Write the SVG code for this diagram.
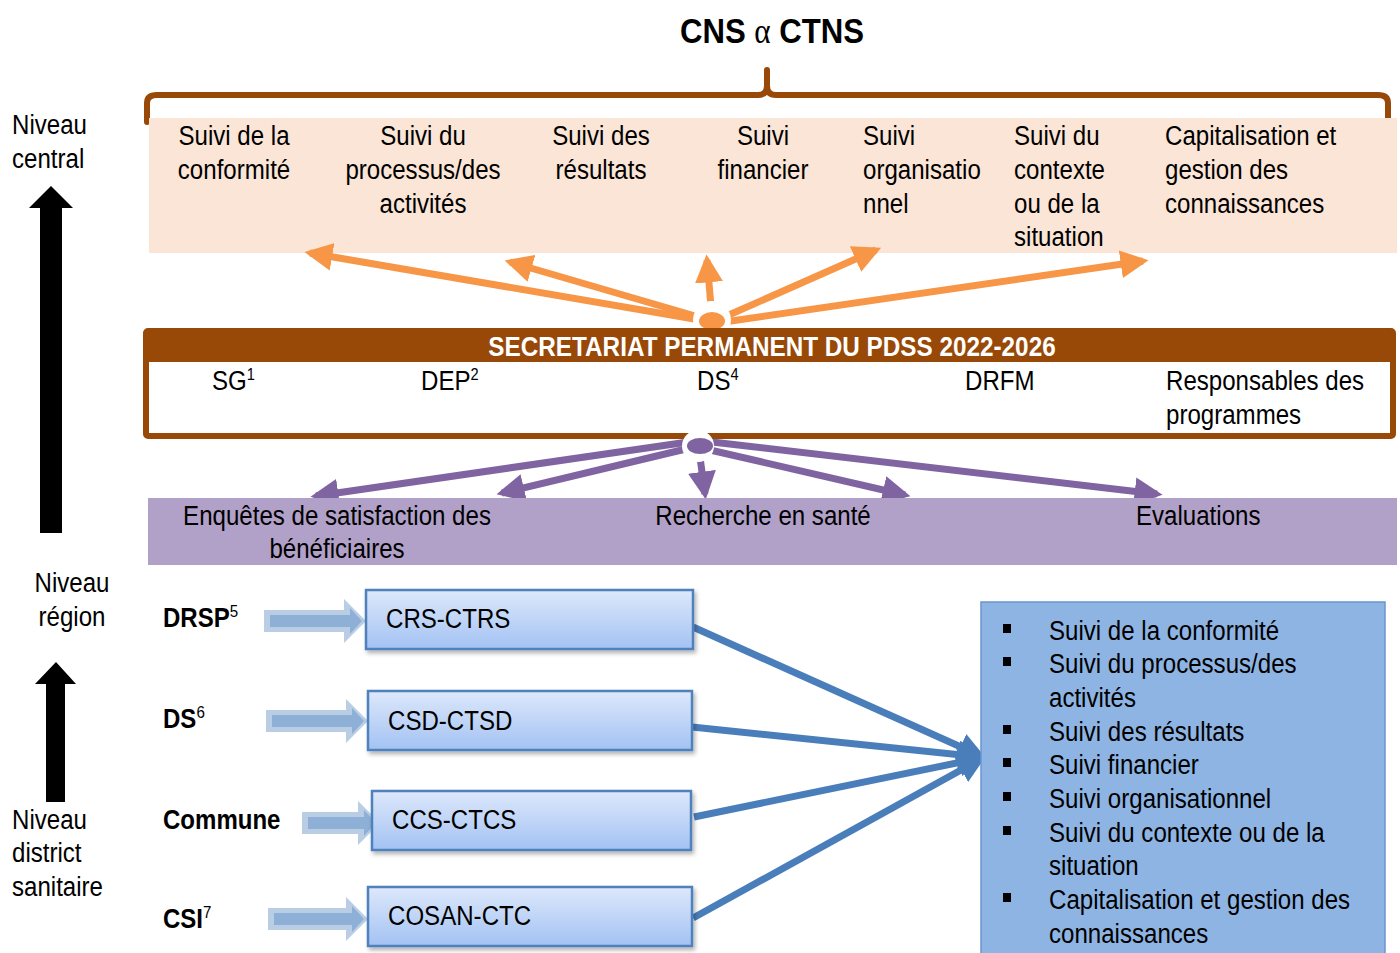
<svg xmlns="http://www.w3.org/2000/svg" width="1400" height="953" viewBox="0 0 1400 953">
<defs>
<style>
text{font-family:"Liberation Sans",Arial,sans-serif;fill:#000;}
.t{font-size:28px;}
.c{text-anchor:middle;}
.b{font-weight:bold;}
.lbl{font-size:27px;font-weight:bold;}
.sup{font-size:17px;}
.orange{stroke:#F79646;stroke-width:7;fill:none;}
.purple{stroke:#8064A2;stroke-width:7;fill:none;}
.blue{stroke:#4A7EBB;stroke-width:7;fill:none;}
.bbox{fill:url(#bg);stroke:#4F81BD;stroke-width:2.5;}
.blk{fill:#B9CDE5;}
.blki{fill:#8EAFD6;}
</style>
<linearGradient id="bg" x1="0" y1="0" x2="0" y2="1">
<stop offset="0" stop-color="#DDE8FB"/>
<stop offset="1" stop-color="#A3C2F3"/>
</linearGradient>
<marker id="mo" viewBox="0 0 10 10" refX="8" refY="5" markerWidth="4" markerHeight="4" orient="auto" markerUnits="strokeWidth"><path d="M0,0 L10,5 L0,10 z" fill="#F79646"/></marker>
<marker id="mp" viewBox="0 0 10 10" refX="8" refY="5" markerWidth="4" markerHeight="4" orient="auto" markerUnits="strokeWidth"><path d="M0,0 L10,5 L0,10 z" fill="#8064A2"/></marker>
<marker id="mb" viewBox="0 0 10 10" refX="8" refY="5" markerWidth="4" markerHeight="4.5" orient="auto" markerUnits="strokeWidth"><path d="M0,0 L10,5 L0,10 z" fill="#4A7EBB"/></marker>
<filter id="sh" x="-5%" y="-10%" width="110%" height="130%"><feDropShadow dx="2" dy="3" stdDeviation="2" flood-color="#000" flood-opacity="0.3"/></filter>
</defs>
<rect width="1400" height="953" fill="#fff"/>

<g id="title">
<text transform="translate(772,43) scale(0.89,1)" class="c b" style="font-size:35px">CNS <tspan style="font-family:'Liberation Serif',serif;font-weight:normal">α</tspan> CTNS</text>
</g>

<g id="brace">
<path d="M147,122 L147,103 Q147,95 157,95 L758,95 Q767,95 767,86 L767,70 M767,86 Q767,95 776,95 L1378,95 Q1388,95 1388,103 L1388,122" fill="none" stroke="#984807" stroke-width="6" stroke-linecap="round"/>
</g>

<g id="central-box">
<rect x="149" y="118" width="1248" height="135" fill="#FBE5D6"/>
<text class="t c" transform="translate(234,145) scale(0.86,1)">Suivi de la</text>
<text class="t c" transform="translate(234,179) scale(0.86,1)">conformité</text>
<text class="t c" transform="translate(423,145) scale(0.86,1)">Suivi du</text>
<text class="t c" transform="translate(423,179) scale(0.86,1)">processus/des</text>
<text class="t c" transform="translate(423,213) scale(0.86,1)">activités</text>
<text class="t c" transform="translate(601,145) scale(0.86,1)">Suivi des</text>
<text class="t c" transform="translate(601,179) scale(0.86,1)">résultats</text>
<text class="t c" transform="translate(763,145) scale(0.86,1)">Suivi</text>
<text class="t c" transform="translate(763,179) scale(0.86,1)">financier</text>
<text class="t" transform="translate(863,145) scale(0.86,1)">Suivi</text>
<text class="t" transform="translate(863,179) scale(0.86,1)">organisatio</text>
<text class="t" transform="translate(863,213) scale(0.86,1)">nnel</text>
<text class="t" transform="translate(1014,145) scale(0.86,1)">Suivi du</text>
<text class="t" transform="translate(1014,179) scale(0.86,1)">contexte</text>
<text class="t" transform="translate(1014,213) scale(0.86,1)">ou de la</text>
<text class="t" transform="translate(1014,246) scale(0.86,1)">situation</text>
<text class="t" transform="translate(1165,145) scale(0.86,1)">Capitalisation et</text>
<text class="t" transform="translate(1165,179) scale(0.86,1)">gestion des</text>
<text class="t" transform="translate(1165,213) scale(0.86,1)">connaissances</text>
</g>

<g id="left-levels">
<text class="t" transform="translate(12,134) scale(0.86,1)">Niveau</text>
<text class="t" transform="translate(12,168) scale(0.86,1)">central</text>
<path d="M40,533 L40,208 L29,208 L51,186 L73,208 L62,208 L62,533 Z" fill="#000"/>
<text class="t c" transform="translate(72,592) scale(0.86,1)">Niveau</text>
<text class="t c" transform="translate(72,626) scale(0.86,1)">région</text>
<path d="M46,802 L46,684 L35,684 L56,662 L76,684 L65,684 L65,802 Z" fill="#000"/>
<text class="t" transform="translate(12,829) scale(0.86,1)">Niveau</text>
<text class="t" transform="translate(12,862) scale(0.86,1)">district</text>
<text class="t" transform="translate(12,896) scale(0.86,1)">sanitaire</text>
</g>

<g id="connectors">
<g id="orange-arrows">
<line class="orange" x1="700" y1="320" x2="310" y2="253" marker-end="url(#mo)"/>
<line class="orange" x1="702" y1="318" x2="510" y2="262" marker-end="url(#mo)"/>
<line class="orange" x1="712" y1="318" x2="707" y2="260" marker-end="url(#mo)"/>
<line class="orange" x1="722" y1="318" x2="876" y2="250" marker-end="url(#mo)"/>
<line class="orange" x1="724" y1="322" x2="1143" y2="261" marker-end="url(#mo)"/>
</g>
<g id="purple-arrows">
<line class="purple" x1="688" y1="442" x2="316" y2="496" marker-end="url(#mp)"/>
<line class="purple" x1="690" y1="448" x2="502" y2="493" marker-end="url(#mp)"/>
<line class="purple" x1="699" y1="450" x2="705" y2="494" marker-end="url(#mp)"/>
<line class="purple" x1="710" y1="450" x2="905" y2="495" marker-end="url(#mp)"/>
<line class="purple" x1="712" y1="442" x2="1157" y2="494" marker-end="url(#mp)"/>
</g>
<g id="blue-arrows">
<line class="blue" x1="693" y1="627" x2="981" y2="756" marker-end="url(#mb)"/>
<line class="blue" x1="692" y1="727" x2="981" y2="757" marker-end="url(#mb)"/>
<line class="blue" x1="694" y1="817" x2="981" y2="758" marker-end="url(#mb)"/>
<line class="blue" x1="693" y1="918" x2="981" y2="759" marker-end="url(#mb)"/>
</g>
<g id="block-arrows">
<path class="blk" d="M264,610 L344,610 L344,599 L366,621 L344,643 L344,632 L264,632 Z"/>
<path class="blki" d="M270,615 L350,615 L350,608 L362,621 L350,634 L350,627 L270,627 Z"/>
<path class="blk" d="M266,710 L346,710 L346,699 L368,721 L346,743 L346,732 L266,732 Z"/>
<path class="blki" d="M272,715 L352,715 L352,708 L364,721 L352,734 L352,727 L272,727 Z"/>
<path class="blk" d="M302,812 L358,812 L358,801 L380,823 L358,845 L358,834 L302,834 Z"/>
<path class="blki" d="M308,817 L364,817 L364,810 L376,823 L364,836 L364,829 L308,829 Z"/>
<path class="blk" d="M268,908 L346,908 L346,897 L368,919 L346,941 L346,930 L268,930 Z"/>
<path class="blki" d="M274,913 L352,913 L352,906 L364,919 L352,932 L352,925 L274,925 Z"/>
</g>
</g>

<g id="orange-hub">
<circle cx="712" cy="320" r="19" fill="#fff"/>
<ellipse cx="712" cy="321" rx="13" ry="9" fill="#F79646"/>
</g>

<g id="secretariat">
<rect x="146" y="331" width="1247" height="105" fill="#fff" stroke="#984807" stroke-width="6" rx="2"/>
<rect x="146" y="331" width="1247" height="31" fill="#984807"/>
<text transform="translate(772,356) scale(0.9,1)" class="c b" style="font-size:27px;fill:#fff">SECRETARIAT PERMANENT DU PDSS 2022-2026</text>
<text class="t" transform="translate(212,390) scale(0.86,1)">SG<tspan dy="-10" class="sup">1</tspan></text>
<text class="t" transform="translate(421,390) scale(0.86,1)">DEP<tspan dy="-10" class="sup">2</tspan></text>
<text class="t" transform="translate(697,390) scale(0.86,1)">DS<tspan dy="-10" class="sup">4</tspan></text>
<text class="t" transform="translate(965,390) scale(0.86,1)">DRFM</text>
<text class="t" transform="translate(1166,390) scale(0.86,1)">Responsables des</text>
<text class="t" transform="translate(1166,424) scale(0.86,1)">programmes</text>
</g>

<g id="purple-hub">
<circle cx="698" cy="446" r="16" fill="#fff"/>
<ellipse cx="700" cy="446" rx="13" ry="8" fill="#8064A2"/>
</g>

<g id="purple-box">
<rect x="148" y="498" width="1249" height="67" fill="#B1A0C7"/>
<text class="t c" transform="translate(337,525) scale(0.86,1)">Enquêtes de satisfaction des</text>
<text class="t c" transform="translate(337,558) scale(0.86,1)">bénéficiaires</text>
<text class="t c" transform="translate(763,525) scale(0.86,1)">Recherche en santé</text>
<text class="t" transform="translate(1136,525) scale(0.86,1)">Evaluations</text>
</g>

<g id="row-drsp">
<text class="lbl" transform="translate(163,627) scale(0.89,1)">DRSP<tspan dy="-10" class="sup" style="font-weight:normal">5</tspan></text>
<rect class="bbox" x="366" y="590" width="327" height="59" filter="url(#sh)"/>
<text class="t" transform="translate(386,628) scale(0.86,1)">CRS-CTRS</text>
</g>
<g id="row-ds">
<text class="lbl" transform="translate(163,728) scale(0.89,1)">DS<tspan dy="-10" class="sup" style="font-weight:normal">6</tspan></text>
<rect class="bbox" x="368" y="691" width="324" height="59" filter="url(#sh)"/>
<text class="t" transform="translate(388,730) scale(0.86,1)">CSD-CTSD</text>
</g>
<g id="row-commune">
<text class="lbl" transform="translate(163,829) scale(0.89,1)">Commune</text>
<rect class="bbox" x="372" y="791" width="319" height="59" filter="url(#sh)"/>
<text class="t" transform="translate(392,829) scale(0.86,1)">CCS-CTCS</text>
</g>
<g id="row-csi">
<text class="lbl" transform="translate(163,928) scale(0.89,1)">CSI<tspan dy="-10" class="sup" style="font-weight:normal">7</tspan></text>
<rect class="bbox" x="368" y="887" width="324" height="59" filter="url(#sh)"/>
<text class="t" transform="translate(388,925) scale(0.86,1)">COSAN-CTC</text>
</g>

<g id="summary-box">
<rect x="981" y="602" width="404" height="360" fill="#8EB4E3" stroke="#6A95CF" stroke-width="1.5"/>
<g fill="#000">
<rect x="1003" y="624" width="8" height="9"/>
<rect x="1003" y="657" width="8" height="9"/>
<rect x="1003" y="725" width="8" height="9"/>
<rect x="1003" y="758" width="8" height="9"/>
<rect x="1003" y="792" width="8" height="9"/>
<rect x="1003" y="826" width="8" height="9"/>
<rect x="1003" y="893" width="8" height="9"/>
</g>
<text class="t" transform="translate(1049,640) scale(0.86,1)">Suivi de la conformité</text>
<text class="t" transform="translate(1049,673) scale(0.86,1)">Suivi du processus/des</text>
<text class="t" transform="translate(1049,707) scale(0.86,1)">activités</text>
<text class="t" transform="translate(1049,741) scale(0.86,1)">Suivi des résultats</text>
<text class="t" transform="translate(1049,774) scale(0.86,1)">Suivi financier</text>
<text class="t" transform="translate(1049,808) scale(0.86,1)">Suivi organisationnel</text>
<text class="t" transform="translate(1049,842) scale(0.86,1)">Suivi du contexte ou de la</text>
<text class="t" transform="translate(1049,875) scale(0.86,1)">situation</text>
<text class="t" transform="translate(1049,909) scale(0.86,1)">Capitalisation et gestion des</text>
<text class="t" transform="translate(1049,943) scale(0.86,1)">connaissances</text>
</g>
</svg>
